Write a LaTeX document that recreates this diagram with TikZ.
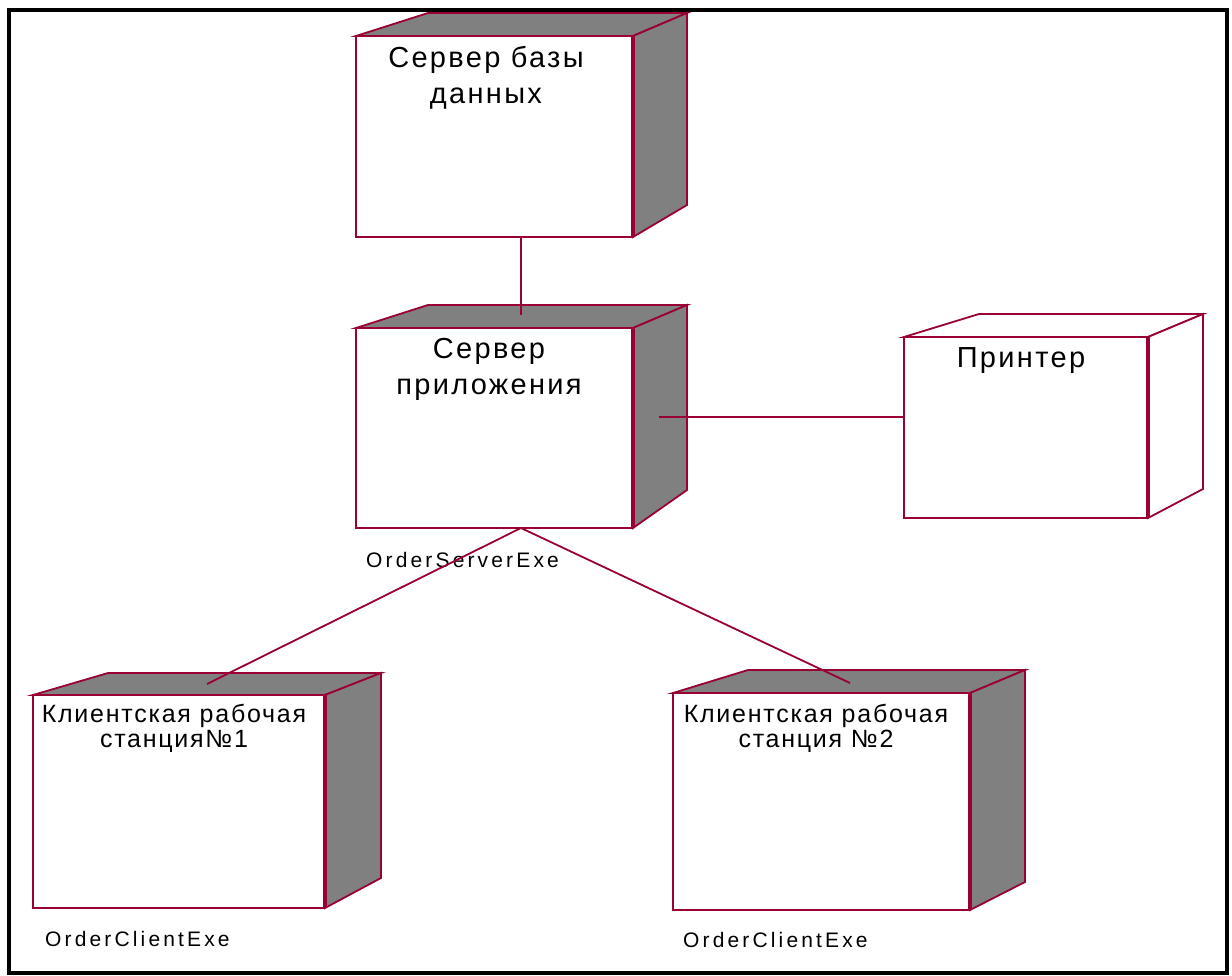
\documentclass[tikz,border=0pt]{standalone}
\usepackage{fontspec}
\setmainfont{Liberation Sans}
\newfontfamily\ttlfont{Liberation Sans}[LetterSpace=8]
\newfontfamily\smlfont{Liberation Sans}[LetterSpace=7]
\newfontfamily\lblfont{Liberation Sans}[LetterSpace=15]
\definecolor{rr}{RGB}{153,0,51}
\definecolor{sidegray}{RGB}{128,128,128}
\tikzset{
  edgeline/.style={draw=rr, line width=1.8pt, line join=miter},
  face/.style={edgeline, fill=sidegray},
  front/.style={edgeline, fill=white, rectangle, inner sep=0pt, outer sep=0pt, anchor=north west},
  thickedge/.style={draw=rr, line width=4pt},
  conn/.style={draw=rr, line width=1.8pt},
  title/.style={inner sep=0pt, align=center, anchor=base, text=black},
  ttlbig/.style={title, font=\ttlfont\fontsize{29}{36.5}\selectfont},
  ttlsmall/.style={title, font=\smlfont\fontsize{25}{25}\selectfont},
  lbl/.style={inner sep=0pt, anchor=base west, font=\lblfont\fontsize{21}{24}\selectfont},
  frame/.style={draw=black, line width=4pt}
}
% name, x1, y1, x2, y2, back-left x, back-top y, back-right x, back-bottom y
\newcommand\udnode[9]{%
  \path[face] (#2,#3) -- (#6,#7) -- (#8,#7) -- (#4,#3) -- cycle;
  \path[face] (#4,#3) -- (#8,#7) -- (#8,#9) -- (#4,#5) -- cycle;
  \node[front, minimum width=#4pt-#2pt, minimum height=#5pt-#3pt] (#1) at (#2,#3) {};
  \draw[thickedge] (#1.north east) -- (#1.south east);
}
\begin{document}
\begin{tikzpicture}[x=1pt,y=-1pt]
\useasboundingbox (0,0) rectangle (1232,976);
\fill[white] (0,0) rectangle (1232,976);
\draw[frame] (9,10) rectangle (1227,973);

\udnode{db}{356}{36}{633}{237}{428}{13}{687}{205}
\udnode{app}{356}{328}{633}{528}{428}{305}{687}{490}
\begin{scope}[face/.style={edgeline, fill=white}]
\udnode{printer}{904}{337}{1148}{518}{979}{314}{1203}{489}
\end{scope}
\udnode{cA}{33}{695}{325}{908}{108}{673}{381}{878}
\udnode{cB}{673}{693}{970}{910}{748}{670}{1025}{882}

\node[ttlbig] (dbName) at (486,104) {Сервер базы\\данных};
\node[ttlbig] (appName) at (489,395) {Сервер\\приложения};
\node[ttlbig] (prName) at (1021,367) {Принтер};
\node[ttlsmall] (cAName) at (174,747) {Клиентская рабочая\\станция№1};
\node[ttlsmall] (cBName) at (816,747) {Клиентская рабочая\\станция №2};

\node[lbl] (appLbl) at (366,567) {OrderServerExe};
\node[lbl] (cALbl) at (45,946) {OrderClientExe};
\node[lbl] (cBLbl) at (683,947) {OrderClientExe};

\coordinate (appIn) at (521,315);
\coordinate (appR) at (659,417);
\coordinate (cAIn) at (207,684);
\coordinate (cBIn) at (850,683);
\draw[conn] (appIn |- db.south) -- (appIn);
\draw[conn] (appR) -- (appR -| printer.west);
\draw[conn] (appIn |- app.south) -- (cAIn);
\draw[conn] (appIn |- app.south) -- (cBIn);
\end{tikzpicture}
\end{document}
